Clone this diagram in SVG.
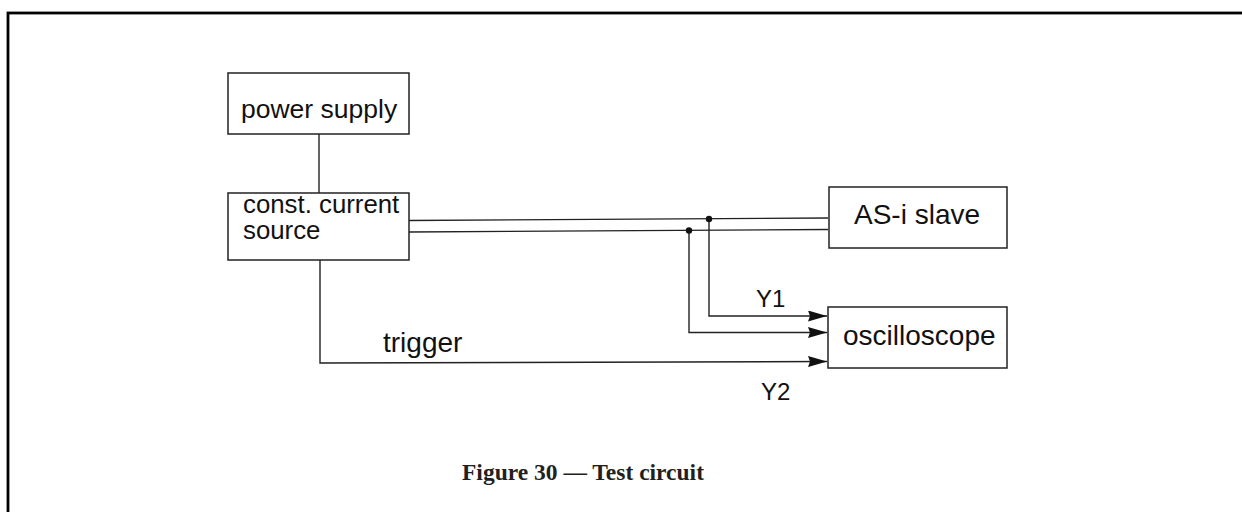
<svg xmlns="http://www.w3.org/2000/svg" width="1242" height="512" viewBox="0 0 1242 512">
<style>
.frame{fill:none;stroke:#000;stroke-width:2.8}
.box{fill:#fff;stroke:#222;stroke-width:1.5}
.w{fill:none;stroke:#222;stroke-width:1.4}
.lbl{font-family:"Liberation Sans",Arial,sans-serif;fill:#111}
.cap{font-family:"Liberation Serif","Times New Roman",serif;font-weight:bold;font-size:23.5px;fill:#231f20}
</style>
<defs>
<marker id="arr" viewBox="0 0 19 11" refX="19" refY="5.5" markerWidth="19" markerHeight="11" markerUnits="userSpaceOnUse" orient="auto">
<path d="M0,0 L19,5.5 L0,11 L2,5.5 Z" fill="#111"/>
</marker>
</defs>
<rect class="frame" x="8" y="13" width="1250" height="520"/>
<g id="connectors">
<line class="w" x1="319" y1="134" x2="319" y2="193"/>
<path class="w" d="M409,220.5 L828,218"/>
<path class="w" d="M409,232 L828,229.5"/>
<path class="w" d="M709,219 L709,316 L827,316" marker-end="url(#arr)"/>
<path class="w" d="M689,230 L689,332.5 L827,332.5" marker-end="url(#arr)"/>
<path class="w" d="M320,260 L320,363 L827,361.5" marker-end="url(#arr)"/>
<circle cx="709" cy="219" r="3.2" fill="#111"/>
<circle cx="689" cy="230.5" r="3.2" fill="#111"/>
</g>
<g id="power-supply">
<rect class="box" x="228" y="73" width="181" height="61"/>
<text class="lbl" x="241" y="118" font-size="26.5">power supply</text>
</g>
<g id="const-current-source">
<rect class="box" x="228" y="193" width="181" height="67"/>
<text class="lbl" x="243" y="213" font-size="25.8">const. current</text>
<text class="lbl" x="243" y="239" font-size="25.8">source</text>
</g>
<g id="as-i-slave">
<rect class="box" x="829" y="187" width="178" height="61"/>
<text class="lbl" x="854" y="224" font-size="28">AS-i slave</text>
</g>
<g id="oscilloscope">
<rect class="box" x="828" y="307" width="179" height="61"/>
<text class="lbl" x="843" y="345" font-size="28">oscilloscope</text>
</g>
<g id="labels">
<text class="lbl" x="383" y="352" font-size="28">trigger</text>
<text class="lbl" x="756" y="307" font-size="24">Y1</text>
<text class="lbl" x="761" y="400" font-size="24">Y2</text>
</g>
<text class="cap" x="462" y="480">Figure 30 — Test circuit</text>
</svg>
